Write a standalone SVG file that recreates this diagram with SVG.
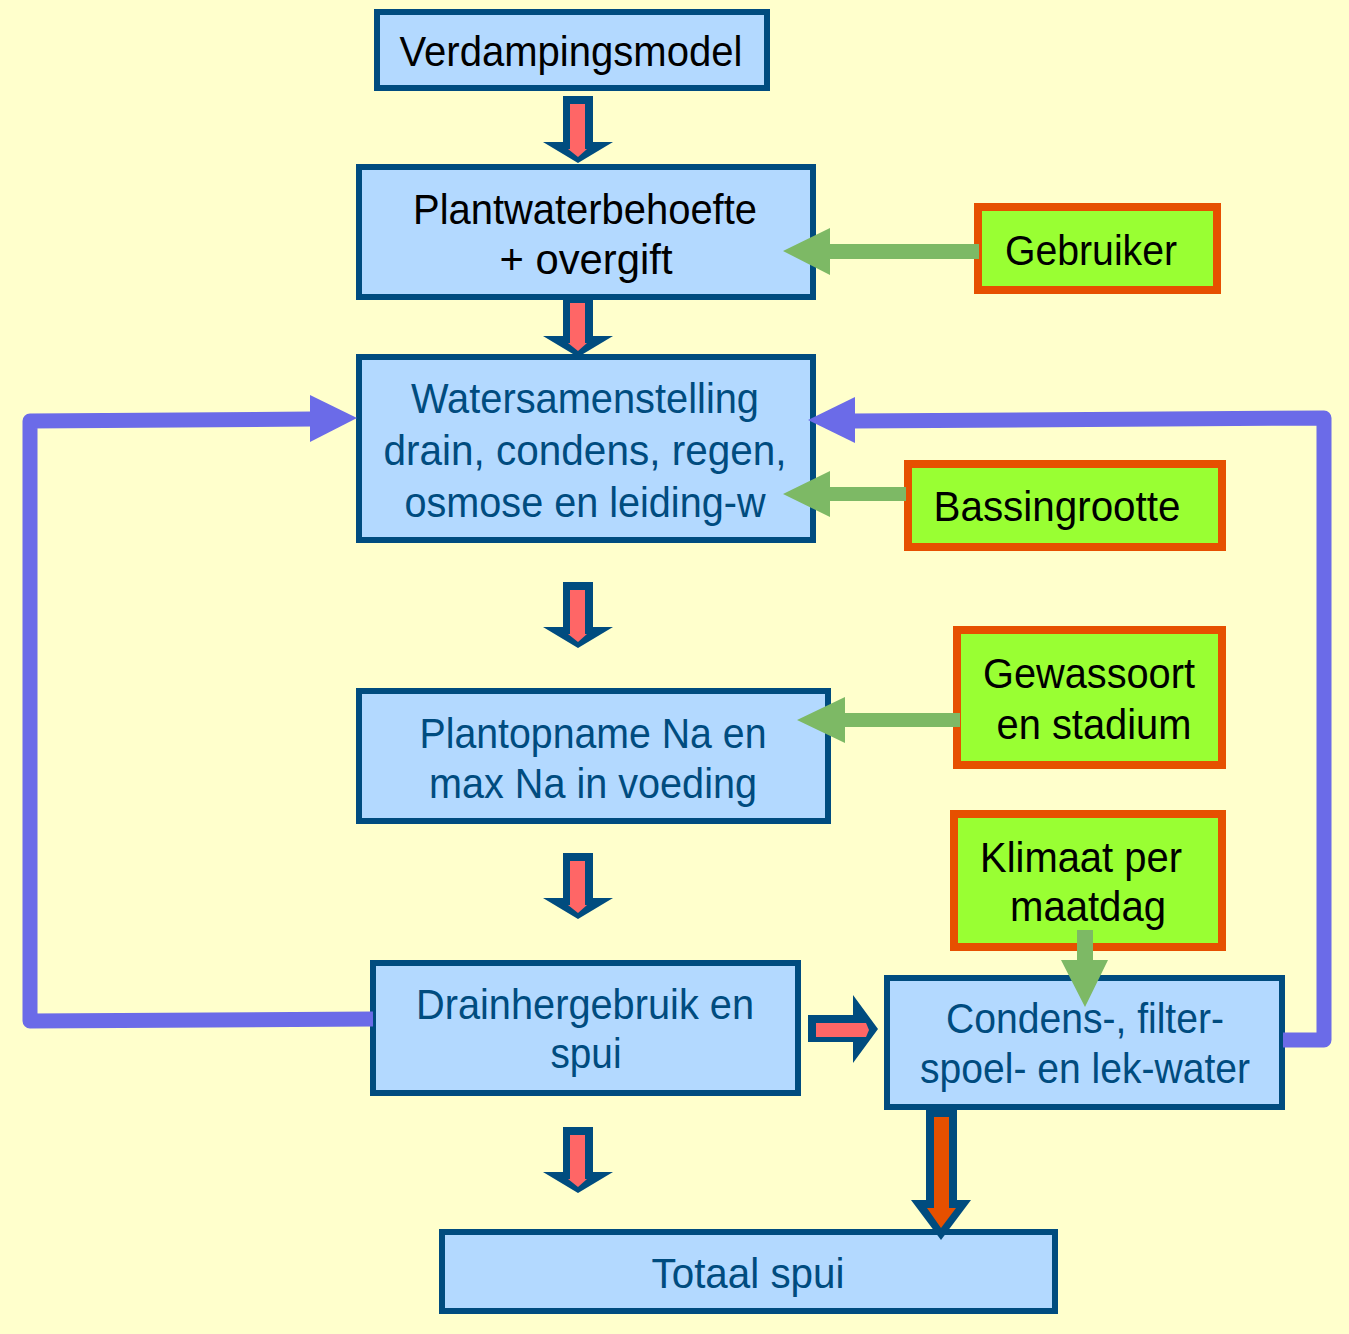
<svg xmlns="http://www.w3.org/2000/svg" width="1349" height="1334" viewBox="0 0 1349 1334">
<style>
.box{fill:#B3D9FF;stroke:#004C7F;stroke-width:6}
.inp{fill:#99FF33;stroke:#E65000;stroke-width:8}
.t{font-family:"Liberation Sans",Arial,sans-serif;font-size:43px;text-anchor:middle}
.dk{fill:#000000}
.bl{fill:#004C7F}
.outer{fill:#004C7F}
.red{fill:#FF6666}
.org{fill:#E65000}
.grn{fill:#7DB965}
.fb{fill:none;stroke:#6B6BE8;stroke-width:15;stroke-linejoin:round}
.fbh{fill:#6B6BE8}
</style>
<rect width="1349" height="1334" fill="#FFFFCC"/>
<g id="verdampingsmodel">
  <rect class="box" x="377" y="12" width="390" height="76"/>
  <text class="t dk" x="571" y="66" font-size="46" textLength="343" lengthAdjust="spacingAndGlyphs">Verdampingsmodel</text>
</g>
<g id="plantwaterbehoefte">
  <rect class="box" x="359" y="167" width="454" height="130"/>
  <text class="t dk" x="585" y="224" textLength="344" lengthAdjust="spacingAndGlyphs">Plantwaterbehoefte</text>
  <text class="t dk" x="586" y="274" textLength="173" lengthAdjust="spacingAndGlyphs">+ overgift</text>
</g>
<g id="watersamenstelling">
  <rect class="box" x="359" y="357" width="454" height="183"/>
  <text class="t bl" x="585" y="413" textLength="348" lengthAdjust="spacingAndGlyphs">Watersamenstelling</text>
  <text class="t bl" x="585" y="465" textLength="403" lengthAdjust="spacingAndGlyphs">drain, condens, regen,</text>
  <text class="t bl" x="585" y="517" textLength="361" lengthAdjust="spacingAndGlyphs">osmose en leiding-w</text>
</g>
<g id="plantopname">
  <rect class="box" x="359" y="691" width="469" height="130"/>
  <text class="t bl" x="593" y="748" textLength="347" lengthAdjust="spacingAndGlyphs">Plantopname Na en</text>
  <text class="t bl" x="593" y="798" textLength="328" lengthAdjust="spacingAndGlyphs">max Na in voeding</text>
</g>
<g id="drainhergebruik">
  <rect class="box" x="373" y="963" width="425" height="130"/>
  <text class="t bl" x="585" y="1019" textLength="338" lengthAdjust="spacingAndGlyphs">Drainhergebruik en</text>
  <text class="t bl" x="586" y="1068" textLength="71" lengthAdjust="spacingAndGlyphs">spui</text>
</g>
<g id="condens">
  <rect class="box" x="887" y="978" width="395" height="129"/>
  <text class="t bl" x="1085" y="1033" textLength="278" lengthAdjust="spacingAndGlyphs">Condens-, filter-</text>
  <text class="t bl" x="1085" y="1083" textLength="330" lengthAdjust="spacingAndGlyphs">spoel- en lek-water</text>
</g>
<g id="totaal-spui">
  <rect class="box" x="442" y="1232" width="613" height="79"/>
  <text class="t bl" x="748" y="1288" textLength="193" lengthAdjust="spacingAndGlyphs">Totaal spui</text>
</g>
<g id="gebruiker">
  <rect class="inp" x="978" y="207" width="239" height="83"/>
  <text class="t dk" x="1091" y="265" textLength="172" lengthAdjust="spacingAndGlyphs">Gebruiker</text>
</g>
<g id="bassingrootte">
  <rect class="inp" x="908" y="464" width="314" height="83"/>
  <text class="t dk" x="1057" y="521" textLength="247" lengthAdjust="spacingAndGlyphs">Bassingrootte</text>
</g>
<g id="gewassoort">
  <rect class="inp" x="957" y="630" width="265" height="135"/>
  <text class="t dk" x="1089" y="688" textLength="212" lengthAdjust="spacingAndGlyphs">Gewassoort</text>
  <text class="t dk" x="1094" y="739" textLength="195" lengthAdjust="spacingAndGlyphs">en stadium</text>
</g>
<g id="klimaat">
  <rect class="inp" x="954" y="814" width="268" height="133"/>
  <text class="t dk" x="1081" y="872" textLength="202" lengthAdjust="spacingAndGlyphs">Klimaat per</text>
  <text class="t dk" x="1088" y="921" textLength="156" lengthAdjust="spacingAndGlyphs">maatdag</text>
</g>
<g id="connectors">
  <polygon class="outer" points="563,96 593,96 593,142 613,142 578,163 543,142 563,142"/>
  <polygon class="red" points="570,104 585,104 585,149 587,149 578,157 568,149 570,149"/>
  <polygon class="outer" points="563,298 593,298 593,336 613,336 578,357 543,336 563,336"/>
  <polygon class="red" points="570,303 585,303 585,343 587,343 578,351 568,343 570,343"/>
  <polygon class="outer" points="563,582 593,582 593,627 613,627 578,648 543,627 563,627"/>
  <polygon class="red" points="570,590 585,590 585,634 587,634 578,642 568,634 570,634"/>
  <polygon class="outer" points="563,853 593,853 593,898 613,898 578,919 543,898 563,898"/>
  <polygon class="red" points="570,861 585,861 585,905 587,905 578,913 568,905 570,905"/>
  <polygon class="outer" points="563,1127 593,1127 593,1172 613,1172 578,1193 543,1172 563,1172"/>
  <polygon class="red" points="570,1135 585,1135 585,1179 587,1179 578,1187 568,1179 570,1179"/>
  <polygon class="outer" points="808,1015 853,1015 853,995 878,1029 853,1063 853,1042 808,1042"/>
  <polygon class="red" points="816,1023 866,1023 869,1030 866,1037 816,1037"/>
  <polygon class="outer" points="926,1108 957,1108 957,1200 971,1200 941,1240 911,1200 926,1200"/>
  <polygon class="org" points="934,1117 949,1117 949,1208 956,1208 941,1228 927,1208 934,1208"/>
  <polygon class="grn" points="979,244 830,244 830,228 783,251 830,275 830,259 979,259"/>
  <polygon class="grn" points="906,487 830,487 830,471 783,494 830,517 830,501 906,501"/>
  <polygon class="grn" points="960,713 845,713 845,697 797,720 845,743 845,727 960,727"/>
  <polygon class="grn" points="1077,930 1093,930 1093,960 1108,960 1085,1007 1061,960 1077,960"/>
  <path class="fb" d="M373,1019 L30,1021 L30,421 L312,419"/>
  <polygon class="fbh" points="310,395 357,418 310,442"/>
  <path class="fb" d="M1283,1040 L1324,1040 L1324,418 L853,421"/>
  <polygon class="fbh" points="855,397 808,420 855,443"/>
</g>
</svg>
